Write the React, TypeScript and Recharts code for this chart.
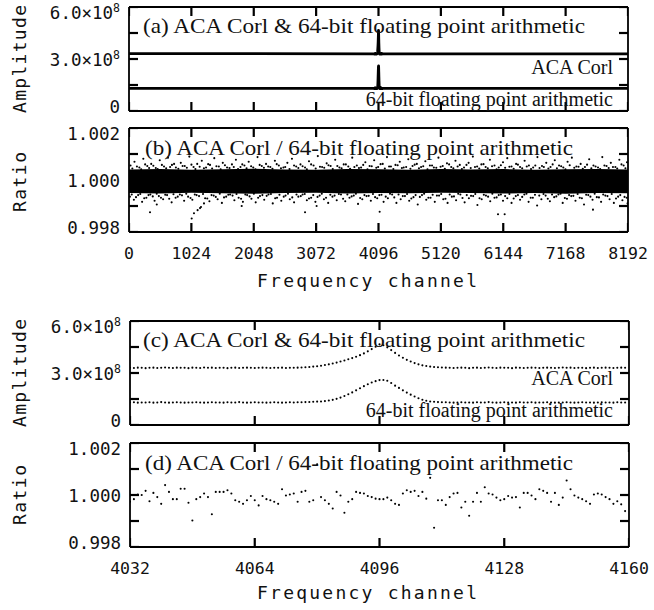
import { ComposedChart, Line, Scatter, Area, XAxis, YAxis, ReferenceLine } from 'recharts'

const PLOT_H = 104
const PLOT_W = 499
const TICK_LEN = 9
const TICK_W = 2.2
const MONO = '"DejaVu Sans Mono", monospace'
const SERIF = '"Liberation Serif", "Times New Roman", serif'

// axis ticks
const wideTicks = [0, 1024, 2048, 3072, 4096, 5120, 6144, 7168, 8192]
const zoomTicks = [4032, 4064, 4096, 4128, 4160]
const ampTicks = [0, 1.5e8, 3e8, 4.5e8, 6e8]
const ampLabels = [0, 3e8, 6e8]
const ratioTicks = [0.998, 0.999, 1.0, 1.001, 1.002]
const ratioLabels = [0.998, 1.0, 1.002]

// channels 4032..4159 (zoomed panels)
const zoomChannels = [
  4032, 4033, 4034, 4035, 4036, 4037, 4038, 4039, 4040, 4041, 4042, 4043, 4044, 4045, 4046, 4047,
  4048, 4049, 4050, 4051, 4052, 4053, 4054, 4055, 4056, 4057, 4058, 4059, 4060, 4061, 4062, 4063,
  4064, 4065, 4066, 4067, 4068, 4069, 4070, 4071, 4072, 4073, 4074, 4075, 4076, 4077, 4078, 4079,
  4080, 4081, 4082, 4083, 4084, 4085, 4086, 4087, 4088, 4089, 4090, 4091, 4092, 4093, 4094, 4095,
  4096, 4097, 4098, 4099, 4100, 4101, 4102, 4103, 4104, 4105, 4106, 4107, 4108, 4109, 4110, 4111,
  4112, 4113, 4114, 4115, 4116, 4117, 4118, 4119, 4120, 4121, 4122, 4123, 4124, 4125, 4126, 4127,
  4128, 4129, 4130, 4131, 4132, 4133, 4134, 4135, 4136, 4137, 4138, 4139, 4140, 4141, 4142, 4143,
  4144, 4145, 4146, 4147, 4148, 4149, 4150, 4151, 4152, 4153, 4154, 4155, 4156, 4157, 4158, 4159,
]

// amplitude, units of 1e8
const acaAmp = [
  3.30, 3.29, 3.31, 3.30, 3.28, 3.30, 3.31, 3.29, 3.30, 3.32, 3.30, 3.29, 3.31, 3.30, 3.30, 3.28,
  3.31, 3.30, 3.29, 3.32, 3.30, 3.31, 3.29, 3.30, 3.30, 3.28, 3.30, 3.31, 3.29, 3.30, 3.31, 3.30,
  3.29, 3.30, 3.31, 3.30, 3.29, 3.30, 3.30, 3.31, 3.29, 3.30, 3.30, 3.31,
  3.32, 3.33, 3.35, 3.37, 3.39, 3.42, 3.46, 3.50, 3.55, 3.60, 3.66, 3.72, 3.79, 3.86, 3.94, 4.03,
  4.13, 4.25, 4.38, 4.52, 4.65, 4.60, 4.48, 4.32, 4.16, 4.01, 3.88, 3.76, 3.66, 3.57, 3.50, 3.44,
  3.40, 3.37, 3.35, 3.33, 3.32, 3.31,
  3.30, 3.29, 3.30, 3.31, 3.30, 3.28, 3.30, 3.31, 3.29, 3.30, 3.32, 3.30, 3.29, 3.31, 3.30, 3.30,
  3.28, 3.31, 3.30, 3.29, 3.30, 3.31, 3.30, 3.29, 3.30, 3.31, 3.30, 3.29, 3.30, 3.32, 3.30, 3.31,
  3.29, 3.30, 3.30, 3.28, 3.30, 3.31, 3.29, 3.30, 3.31, 3.30, 3.29, 3.30, 3.31, 3.30,
]
const fpAmp = [
  1.30, 1.31, 1.29, 1.30, 1.30, 1.31, 1.29, 1.30, 1.32, 1.30, 1.29, 1.30, 1.31, 1.30, 1.29, 1.30,
  1.30, 1.31, 1.30, 1.29, 1.30, 1.31, 1.30, 1.30, 1.29, 1.31, 1.30, 1.30, 1.32, 1.30, 1.29, 1.30,
  1.31, 1.30, 1.30, 1.29, 1.30, 1.31, 1.30, 1.29, 1.30, 1.31, 1.30, 1.31,
  1.31, 1.32, 1.33, 1.34, 1.35, 1.36, 1.38, 1.41, 1.45, 1.51, 1.58, 1.67, 1.77, 1.88, 2.00, 2.12,
  2.24, 2.35, 2.45, 2.53, 2.59, 2.60, 2.55, 2.42, 2.27, 2.14, 2.00, 1.87, 1.75, 1.64, 1.54, 1.46,
  1.40, 1.36, 1.34, 1.32, 1.31, 1.31,
  1.30, 1.29, 1.30, 1.31, 1.30, 1.30, 1.29, 1.31, 1.30, 1.30, 1.32, 1.30, 1.29, 1.30, 1.31, 1.30,
  1.30, 1.29, 1.31, 1.30, 1.30, 1.31, 1.29, 1.30, 1.30, 1.31, 1.30, 1.29, 1.30, 1.30, 1.31, 1.30,
  1.29, 1.30, 1.31, 1.30, 1.30, 1.29, 1.30, 1.31, 1.30, 1.30, 1.29, 1.31, 1.30, 1.30,
]

// full-band end points for panel (a)
const edgeChannels = [0, 8192]
const acaEdge = [3.31, 3.30]
const fpEdge = [1.30, 1.31]

// ratio - 1 over the zoomed channels, units of 1e-5
const zoomRatioDev = [
  -26, -16, 2, 0, 16, -24, 8, -8, -34, 38, 12, -16, -16, 24, 24, -30,
  -98, -16, -8, 6, -8, -74, 12, 12, 12, 18, 6, -20, -26, -34, -20, -4,
  -20, -40, -4, -16, -20, -26, -34, 22, -2, 2, 6, -26, 12, 16, -26, -20,
  118, -8, -20, -34, -52, 12, -2, -68, -26, -16, 12, 8, 6, -4, -8, -14,
  -16, -16, -10, -20, -34, -38, 6, 18, 12, 16, -4, 12, -14, 66, -126, -20,
  -20, -38, -8, 6, 8, -48, -26, -80, -26, 8, -26, 30, 6, 2, -10, -20,
  -16, -4, -10, -8, -48, 8, 8, -2, -16, 22, 16, 8, -26, 8, -38, -10,
  56, 22, -2, -10, -16, -24, -34, 2, 6, 2, -8, -16, -34, -24, -36, -62,
]

// full-band ratio: dense core envelope (ratio - 1, units of 1e-5) + scattered points
const bandChannels = [0, 512, 1024, 1536, 2048, 2560, 3072, 3584, 4096, 4608, 5120, 5632, 6144, 6656, 7168, 7680, 8192]
const bandLowDev = [-50, -52, -49, -51, -53, -50, -49, -52, -50, -51, -49, -50, -52, -50, -53, -50, -51]
const bandHighDev = [40, 42, 39, 41, 43, 40, 39, 42, 41, 39, 42, 40, 42, 39, 41, 42, 40]

const ratioScatterDev: [number, number][] = [
  [25,56],[90,70],[170,48],[235,82],[300,54],[365,62],[440,46],[505,76],[575,52],[640,86],
  [705,58],[770,48],[850,66],[915,54],[990,90],[1060,50],[1120,62],[1195,74],[1265,48],[1330,58],
  [1400,84],[1475,52],[1540,66],[1610,48],[1690,60],[1755,78],[1830,50],[1895,56],[1965,70],[2040,48],
  [2110,88],[2180,54],[2250,62],[2320,50],[2395,74],[2460,56],[2535,48],[2600,66],[2675,82],[2745,52],
  [2815,60],[2890,48],[2955,72],[3030,56],[3100,92],[3170,50],[3245,64],[3310,54],[3385,78],[3455,48],
  [3525,60],[3600,52],[3665,86],[3740,56],[3810,48],[3880,68],[3950,54],[4025,76],[4090,50],[4165,62],
  [4235,88],[4300,52],[4375,58],[4445,70],[4510,48],[4585,80],[4655,54],[4725,62],[4795,50],[4865,72],
  [4940,56],[5005,48],[5080,86],[5150,54],[5220,64],[5290,50],[5360,74],[5430,58],[5500,48],[5575,66],
  [5645,90],[5715,52],[5785,60],[5855,50],[5925,78],[6000,56],[6070,48],[6140,68],[6210,84],[6280,52],
  [6355,62],[6420,50],[6495,74],[6565,56],[6635,48],[6705,88],[6780,54],[6850,66],[6920,50],[6990,76],
  [7060,56],[7130,48],[7200,70],[7270,86],[7345,52],[7415,62],[7485,50],[7555,80],[7625,56],[7700,48],
  [7770,88],[7840,54],[7910,66],[7985,50],[8050,78],[8120,56],[8175,68],
  [55,44],[130,52],[200,41],[265,60],[330,46],[400,55],[470,42],[540,58],[610,45],[675,50],
  [740,62],[810,43],[880,54],[950,47],[1025,59],[1090,42],[1160,51],[1230,45],[1300,61],[1365,44],
  [1435,53],[1505,41],[1575,57],[1650,46],[1720,50],[1790,42],[1860,60],[1930,45],[2005,53],[2075,41],
  [2145,58],[2215,47],[2285,52],[2355,43],[2425,61],[2495,45],[2565,50],[2635,42],[2710,56],[2780,46],
  [2850,53],[2920,41],[2990,60],[3065,44],[3135,51],[3205,47],[3275,57],[3345,42],[3420,54],[3490,45],
  [3560,60],[3630,43],[3700,50],[3775,46],[3845,58],[3915,41],[3985,53],[4060,47],[4130,61],[4200,44],
  [4270,52],[4340,42],[4410,57],[4480,46],[4550,50],[4620,43],[4690,59],[4760,45],[4830,53],[4900,41],
  [4975,56],[5045,47],[5115,51],[5185,43],[5255,60],[5325,45],[5395,52],[5465,42],[5540,58],[5610,46],
  [5680,50],[5750,44],[5820,61],[5890,45],[5960,53],[6035,41],[6105,57],[6175,47],[6245,51],[6315,43],
  [6385,59],[6455,45],[6530,52],[6600,42],[6670,56],[6740,46],[6810,50],[6885,44],[6955,60],[7025,45],
  [7095,53],[7165,41],[7235,57],[7310,47],[7380,51],[7450,43],[7520,59],[7590,45],[7660,52],[7735,42],
  [7805,56],[7875,46],[7945,50],[8015,44],[8085,60],[8150,45],
  [15,-64],[80,-76],[150,-58],[215,-84],[285,-68],[345,-124],[350,-56],[420,-80],[456,-94],[490,-62],
  [560,-74],[625,-58],[700,-86],[765,-68],[835,-56],[905,-80],[970,-64],[1029,-148],[1040,-76],[1067,-128],
  [1110,-58],[1126,-116],[1166,-108],[1182,-104],[1231,-90],[1250,-70],[1320,-82],[1390,-60],[1455,-74],[1525,-88],
  [1595,-64],[1660,-56],[1730,-78],[1800,-68],[1850,-100],[1870,-84],[1940,-58],[2010,-72],[2080,-86],[2150,-62],
  [2220,-76],[2290,-56],[2360,-90],[2430,-68],[2500,-80],[2570,-60],[2640,-74],[2710,-86],[2780,-64],[2850,-56],
  [2890,-124],[2920,-78],[2990,-68],[3060,-84],[3080,-100],[3130,-60],[3200,-74],[3270,-88],[3340,-64],[3410,-78],
  [3480,-56],[3550,-82],[3620,-68],[3690,-60],[3760,-92],[3830,-74],[3900,-62],[3970,-80],[4040,-66],[4115,-122],
  [4110,-58],[4180,-84],[4250,-70],[4320,-56],[4390,-88],[4460,-74],[4530,-62],[4600,-80],[4670,-66],[4740,-94],
  [4810,-58],[4880,-76],[4950,-68],[5020,-84],[5090,-60],[5160,-74],[5230,-88],[5300,-64],[5370,-78],[5440,-56],
  [5510,-86],[5580,-70],[5650,-62],[5720,-96],[5790,-74],[5860,-60],[5930,-82],[6000,-68],[6058,-132],[6070,-58],
  [6140,-80],[6167,-132],[6210,-70],[6280,-88],[6350,-62],[6420,-76],[6490,-56],[6560,-84],[6630,-68],[6700,-98],
  [6770,-74],[6840,-60],[6910,-82],[6980,-66],[7050,-56],[7120,-88],[7190,-72],[7260,-62],[7330,-80],[7400,-68],
  [7470,-94],[7540,-58],[7617,-114],[7610,-76],[7680,-66],[7750,-84],[7820,-60],[7890,-74],[7960,-88],[8030,-64],
  [8100,-78],[8170,-68],[8185,-90],
  [45,-56],[115,-66],[185,-54],[250,-70],[320,-58],[390,-63],[455,-53],[525,-68],[595,-57],[660,-72],
  [730,-55],[800,-64],[870,-59],[940,-53],[1010,-69],[1080,-56],[1150,-62],[1215,-54],[1285,-71],[1355,-58],
  [1425,-65],[1490,-53],[1560,-67],[1630,-57],[1700,-60],[1765,-54],[1840,-72],[1910,-56],[1980,-63],[2050,-53],
  [2120,-68],[2190,-58],[2260,-61],[2330,-54],[2400,-70],[2470,-57],[2540,-64],[2610,-53],[2680,-67],[2750,-56],
  [2820,-62],[2885,-54],[2955,-71],[3025,-58],[3095,-65],[3165,-53],[3235,-68],[3305,-57],[3375,-60],[3445,-54],
  [3515,-72],[3585,-56],[3655,-63],[3725,-53],[3795,-69],[3865,-58],[3935,-61],[4005,-54],[4075,-70],[4145,-57],
  [4215,-64],[4285,-53],[4355,-67],[4425,-56],[4495,-62],[4565,-54],[4635,-71],[4705,-58],[4775,-65],[4845,-53],
  [4915,-68],[4985,-57],[5055,-60],[5125,-54],[5195,-72],[5265,-56],[5335,-63],[5405,-53],[5475,-69],[5545,-58],
  [5615,-61],[5685,-54],[5755,-70],[5825,-57],[5895,-64],[5965,-53],[6035,-67],[6105,-56],[6175,-62],[6245,-54],
  [6315,-71],[6385,-58],[6455,-65],[6525,-53],[6595,-68],[6665,-57],[6735,-60],[6805,-54],[6875,-72],[6945,-56],
  [7015,-63],[7085,-53],[7155,-69],[7225,-58],[7295,-61],[7365,-54],[7435,-70],[7505,-57],[7575,-64],[7645,-53],
  [7715,-67],[7785,-56],[7855,-62],[7925,-54],[7995,-71],[8065,-58],[8135,-65],
]

// built tables
const acaZoom = zoomChannels.map((ch, i) => ({ ch, v: acaAmp[i] * 1e8 }))
const fpZoom = zoomChannels.map((ch, i) => ({ ch, v: fpAmp[i] * 1e8 }))
const acaWide = [{ ch: edgeChannels[0], v: acaEdge[0] * 1e8 }, ...acaZoom, { ch: edgeChannels[1], v: acaEdge[1] * 1e8 }]
const fpWide = [{ ch: edgeChannels[0], v: fpEdge[0] * 1e8 }, ...fpZoom, { ch: edgeChannels[1], v: fpEdge[1] * 1e8 }]
const ratioZoomData = zoomChannels.map((ch, i) => ({ ch, v: 1 + zoomRatioDev[i] * 1e-5 }))
const bandData = bandChannels.map((ch, i) => ({ ch, v: [1 + bandLowDev[i] * 1e-5, 1 + bandHighDev[i] * 1e-5] }))
const scatterData = ratioScatterDev.map(([ch, d]) => ({ ch, v: 1 + d * 1e-5 }))

const Dot = (p: any) => <circle cx={p.cx} cy={p.cy} r={1.05} fill="#000" />

// inward tick mark, drawn from the frame point the library placed
const TickMark = (p: any) => {
  const side = p.payload?.side
  const h = TICK_W / 2
  if (side === 'b') return <rect x={p.cx - h} y={p.cy - TICK_LEN} width={TICK_W} height={TICK_LEN} fill="#000" />
  if (side === 't') return <rect x={p.cx - h} y={p.cy} width={TICK_W} height={TICK_LEN} fill="#000" />
  if (side === 'l') return <rect x={p.cx} y={p.cy - h} width={TICK_LEN} height={TICK_W} fill="#000" />
  return <rect x={p.cx - TICK_LEN} y={p.cy - h} width={TICK_LEN} height={TICK_W} fill="#000" />
}

const near = (a: number, b: number) => Math.abs(a - b) <= 1e-9 * Math.max(1, Math.abs(b))

function makeXTick(showLabel: boolean) {
  return (props: any) => {
    const { x, y, payload } = props
    if (!showLabel) return <g />
    return (
      <text x={x} y={y + 27} textAnchor="middle" fontFamily={MONO} fontSize={16.5} fill="#111">
        {payload.value}
      </text>
    )
  }
}

function makeYTick(labels: number[], kind: 'amp' | 'ratio') {
  return (props: any) => {
    const { x, y, payload } = props
    const v = payload.value
    const idx = labels.findIndex((l) => near(v, l))
    if (idx < 0) return <g />
    const shift = idx === labels.length - 1 ? 6 : idx === 0 ? -4 : 1
    const base = y + shift + 6
    const lx = x - 9
    if (kind === 'amp' && v !== 0) {
      return (
        <text x={lx} y={base} textAnchor="end" fontFamily={MONO} fontSize={17.5} fill="#111">
          {(v / 1e8).toFixed(1)}×10<tspan dy={-7} fontSize={11.5}>8</tspan>
        </text>
      )
    }
    return (
      <text x={lx} y={base} textAnchor="end" fontFamily={MONO} fontSize={17.5} fill="#111">
        {kind === 'amp' ? '0' : v.toFixed(3)}
      </text>
    )
  }
}

type PanelSpec = {
  top: number
  left: number
  xDomain: [number, number]
  xTicks: number[]
  yDomain: [number, number]
  yTicks: number[]
}

const panelA: PanelSpec = { top: 7, left: 129, xDomain: [0, 8192], xTicks: wideTicks, yDomain: [0, 6e8], yTicks: ampTicks }
const panelB: PanelSpec = { top: 128, left: 129, xDomain: [0, 8192], xTicks: wideTicks, yDomain: [0.998, 1.002], yTicks: ratioTicks }
const panelC: PanelSpec = { top: 321, left: 130, xDomain: [4032, 4160], xTicks: zoomTicks, yDomain: [0, 6e8], yTicks: ampTicks }
const panelD: PanelSpec = { top: 443, left: 130, xDomain: [4032, 4160], xTicks: zoomTicks, yDomain: [0.998, 1.002], yTicks: ratioTicks }

type PanelProps = { spec: PanelSpec; xLabels: boolean; yLabels: number[]; kind: 'amp' | 'ratio'; children: any }

function Panel({ spec, xLabels, yLabels, kind, children }: PanelProps) {
  const { top, left, xDomain, xTicks, yDomain, yTicks } = spec
  const [x0, x1] = xDomain
  const [y0, y1] = yDomain
  const frameTicks = [
    ...xTicks.map((t) => ({ ch: t, v: y0, side: 'b' })),
    ...xTicks.map((t) => ({ ch: t, v: y1, side: 't' })),
    ...yTicks.map((t) => ({ ch: x0, v: t, side: 'l' })),
    ...yTicks.map((t) => ({ ch: x1, v: t, side: 'r' })),
  ]
  return (
    <div style={{ position: 'absolute', left: 0, top: top - 5 }}>
      <ComposedChart
        width={654}
        height={5 + PLOT_H + 30 + 5}
        margin={{ top: 5, right: 654 - left - PLOT_W, bottom: 5, left: left - 60 }}
      >
        <XAxis
          dataKey="ch"
          type="number"
          domain={xDomain}
          ticks={xTicks}
          interval={0}
          allowDataOverflow
          axisLine={{ stroke: '#000', strokeWidth: 1.8 }}
          tickLine={false}
          tickSize={0}
          tickMargin={0}
          height={30}
          tick={makeXTick(xLabels)}
        />
        <YAxis
          dataKey="v"
          type="number"
          domain={yDomain}
          ticks={yTicks}
          interval={0}
          allowDataOverflow
          axisLine={{ stroke: '#000', strokeWidth: 1.8 }}
          tickLine={false}
          tickSize={0}
          tickMargin={0}
          width={60}
          tick={makeYTick(yLabels, kind)}
        />
        {children}
        <Scatter data={frameTicks} dataKey="v" shape={TickMark} isAnimationActive={false} />
        <ReferenceLine ifOverflow="visible" segment={[{ x: x0, y: y1 }, { x: x1, y: y1 }]} stroke="#000" strokeWidth={1.8} />
        <ReferenceLine ifOverflow="visible" segment={[{ x: x1, y: y0 }, { x: x1, y: y1 }]} stroke="#000" strokeWidth={1.8} />
      </ComposedChart>
    </div>
  )
}

const textStyle = { fontFamily: SERIF, fill: '#111' }

export default function App() {
  return (
    <div style={{ position: 'absolute', left: 0, top: 0, width: 654, height: 610, background: '#fff', overflow: 'hidden' }}>
      <Panel spec={panelA} xLabels={false} yLabels={ampLabels} kind="amp">
        <Line data={acaWide} dataKey="v" type="linear" dot={false} stroke="#000" strokeWidth={2.8} strokeLinejoin="round" isAnimationActive={false} />
        <Line data={fpWide} dataKey="v" type="linear" dot={false} stroke="#000" strokeWidth={2.8} strokeLinejoin="round" isAnimationActive={false} />
      </Panel>
      <Panel spec={panelB} xLabels yLabels={ratioLabels} kind="ratio">
        <Area data={bandData} dataKey="v" type="linear" fill="#000" fillOpacity={1} stroke="none" isAnimationActive={false} />
        <Scatter data={scatterData} dataKey="v" shape={Dot} isAnimationActive={false} />
      </Panel>
      <Panel spec={panelC} xLabels={false} yLabels={ampLabels} kind="amp">
        <Scatter data={acaZoom} dataKey="v" shape={Dot} isAnimationActive={false} />
        <Scatter data={fpZoom} dataKey="v" shape={Dot} isAnimationActive={false} />
      </Panel>
      <Panel spec={panelD} xLabels yLabels={ratioLabels} kind="ratio">
        <Scatter data={ratioZoomData} dataKey="v" shape={Dot} isAnimationActive={false} />
      </Panel>

      <svg width={654} height={610} style={{ position: 'absolute', left: 0, top: 0, pointerEvents: 'none' }}>
        <text x={143} y={33} fontSize={22} textLength={442} lengthAdjust="spacingAndGlyphs" {...textStyle}>(a) ACA Corl &amp; 64-bit floating point arithmetic</text>
        <text x={613} y={74} fontSize={20} textAnchor="end" {...textStyle}>ACA Corl</text>
        <text x={613} y={106} fontSize={20} textAnchor="end" {...textStyle}>64-bit floating point arithmetic</text>

        <text x={145} y={155} fontSize={22} textLength={428} lengthAdjust="spacingAndGlyphs" {...textStyle}>(b) ACA Corl / 64-bit floating point arithmetic</text>

        <text x={143} y={347} fontSize={22} textLength={442} lengthAdjust="spacingAndGlyphs" {...textStyle}>(c) ACA Corl &amp; 64-bit floating point arithmetic</text>
        <text x={613} y={385} fontSize={20} textAnchor="end" {...textStyle}>ACA Corl</text>
        <text x={613} y={417} fontSize={20} textAnchor="end" {...textStyle}>64-bit floating point arithmetic</text>

        <text x={145} y={470} fontSize={22} textLength={428} lengthAdjust="spacingAndGlyphs" {...textStyle}>(d) ACA Corl / 64-bit floating point arithmetic</text>

        <text x={26} y={59} transform="rotate(-90 26 59)" textAnchor="middle" fontFamily={MONO} fontSize={18} textLength={108} fill="#111">Amplitude</text>
        <text x={26} y={182} transform="rotate(-90 26 182)" textAnchor="middle" fontFamily={MONO} fontSize={18} textLength={60} fill="#111">Ratio</text>
        <text x={26} y={373} transform="rotate(-90 26 373)" textAnchor="middle" fontFamily={MONO} fontSize={18} textLength={108} fill="#111">Amplitude</text>
        <text x={26} y={495} transform="rotate(-90 26 495)" textAnchor="middle" fontFamily={MONO} fontSize={18} textLength={60} fill="#111">Ratio</text>

        <text x={367} y={287} textAnchor="middle" fontFamily={MONO} fontSize={18} textLength={220} fill="#111">Frequency channel</text>
        <text x={367} y={599} textAnchor="middle" fontFamily={MONO} fontSize={18} textLength={220} fill="#111">Frequency channel</text>
      </svg>
    </div>
  )
}
